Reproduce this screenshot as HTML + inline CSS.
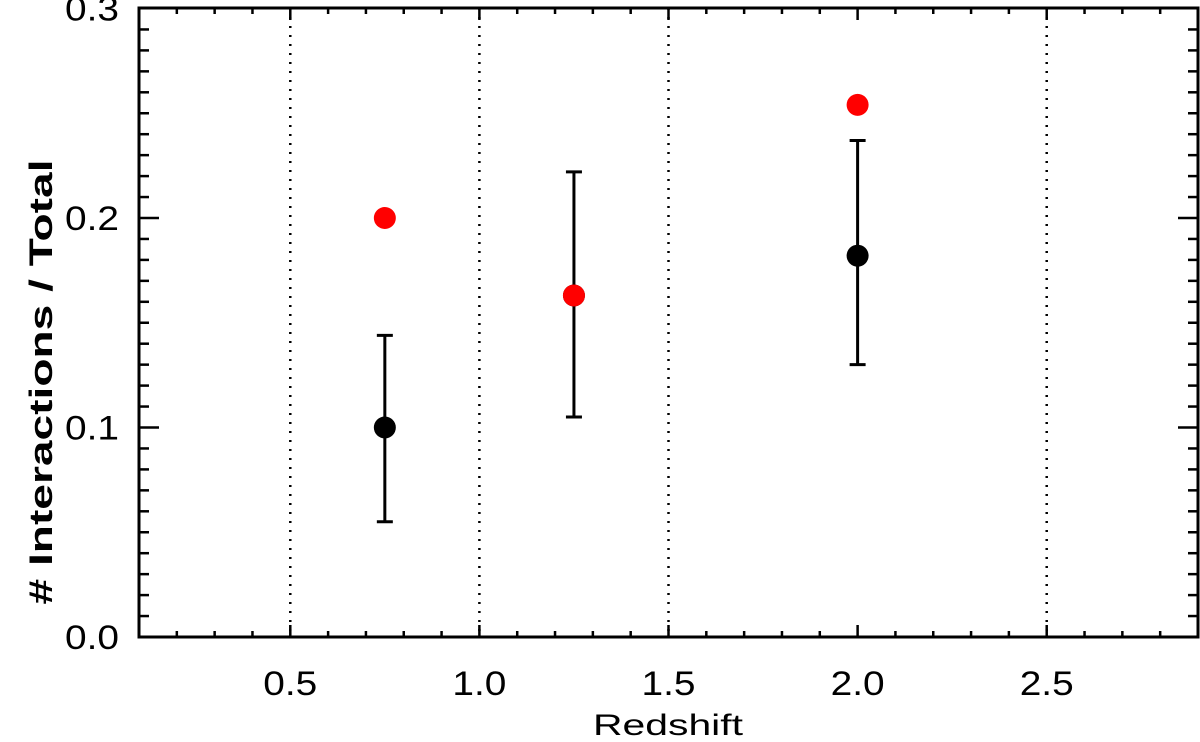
<!DOCTYPE html>
<html><head><meta charset="utf-8"><style>
html,body{margin:0;padding:0;background:#fff;}
svg{display:block;font-family:"Liberation Sans","DejaVu Sans",sans-serif;}
</style></head><body>
<svg id="chart" width="1200" height="742" viewBox="0 0 1200 742" xmlns="http://www.w3.org/2000/svg"></svg>
<script>
const xTicks=[0.5,1.0,1.5,2.0,2.5];
const xTickLabels=["0.5","1.0","1.5","2.0","2.5"];
const yTicks=[0.0,0.1,0.2,0.3];
const yTickLabels=["0.0","0.1","0.2","0.3"];
const gridLines=[0.5,1.0,1.5,2.5];
const blackX=[0.75,1.25,2.0];
const blackY=[0.100,0.163,0.182];
const blackLo=[0.055,0.105,0.130];
const blackHi=[0.144,0.222,0.237];
const redX=[0.75,1.25,2.0];
const redY=[0.200,0.163,0.254];

const L=139,R=1198,T=8,B=637;
const x0=0.1,x1=2.9,y0=0,y1=0.3;
const sx=v=>L+(v-x0)/(x1-x0)*(R-L);
const sy=v=>B-(v-y0)/(y1-y0)*(B-T-0.5);
const svg=document.getElementById('chart');
const NS='http://www.w3.org/2000/svg';
function mk(tag,attrs,parent){const e=document.createElementNS(NS,tag);for(const k in attrs)e.setAttribute(k,attrs[k]);(parent||svg).appendChild(e);return e;}

gridLines.forEach(g=>{
  const l=mk('line',{x1:sx(g),x2:sx(g),y1:T,y2:B,stroke:'#000','stroke-width':2.5,'stroke-dasharray':'2 7'});
  
  
});
for(let i=1;i<28;i++){const v=x0+i*0.1;const major=Math.abs(v*2-Math.round(v*2))<1e-6;const len=major?12:6;
  mk('line',{x1:sx(v),x2:sx(v),y1:B,y2:B-len,stroke:'#000','stroke-width':2.5});
  mk('line',{x1:sx(v),x2:sx(v),y1:T,y2:T+len,stroke:'#000','stroke-width':2.5});}
for(let i=1;i<30;i++){const v=i*0.01;const major=i%10===0;const len=major?20:10;
  mk('line',{x1:L,x2:L+len,y1:sy(v),y2:sy(v),stroke:'#000','stroke-width':2.5});
  mk('line',{x1:R,x2:R-len,y1:sy(v),y2:sy(v),stroke:'#000','stroke-width':2.5});}
const frame=mk('rect',{x:L,y:T,width:R-L,height:B-T,fill:'none',stroke:'#000','stroke-width':3});



xTicks.forEach((v,i)=>{const t=mk('text',{x:sx(v),y:695,'font-size':34,'text-anchor':'middle','textLength':54,'lengthAdjust':'spacingAndGlyphs'});t.textContent=xTickLabels[i];
  
  });
yTicks.forEach((v,i)=>{const t=mk('text',{x:119,y:sy(v)+12,'font-size':34,'text-anchor':'end','textLength':54,'lengthAdjust':'spacingAndGlyphs'});t.textContent=yTickLabels[i];
  
  });
const xt=mk('text',{x:668,y:735,'font-size':30,'text-anchor':'middle','textLength':150,'lengthAdjust':'spacingAndGlyphs'});xt.textContent='Redshift';


const yt=mk('text',{x:0,y:0,'font-size':32,'font-weight':'bold','text-anchor':'middle','textLength':445,'lengthAdjust':'spacingAndGlyphs',transform:'translate(52,382) rotate(-90)'});yt.textContent='# Interactions / Total';



blackX.forEach((v,i)=>{
  const g=mk('g',{});
  
  
  const cx=sx(v);
  mk('line',{x1:cx,x2:cx,y1:sy(blackLo[i]),y2:sy(blackHi[i]),stroke:'#000','stroke-width':3},g);
  mk('line',{x1:cx-8,x2:cx+8,y1:sy(blackLo[i]),y2:sy(blackLo[i]),stroke:'#000','stroke-width':3},g);
  mk('line',{x1:cx-8,x2:cx+8,y1:sy(blackHi[i]),y2:sy(blackHi[i]),stroke:'#000','stroke-width':3},g);
  mk('circle',{cx:cx,cy:sy(blackY[i]),r:11,fill:'#000'},g);
});
redX.forEach((v,i)=>{
  const c=mk('circle',{cx:sx(v),cy:sy(redY[i]),r:11,fill:'#f00'});
  
  
});
</script>
</body></html>
